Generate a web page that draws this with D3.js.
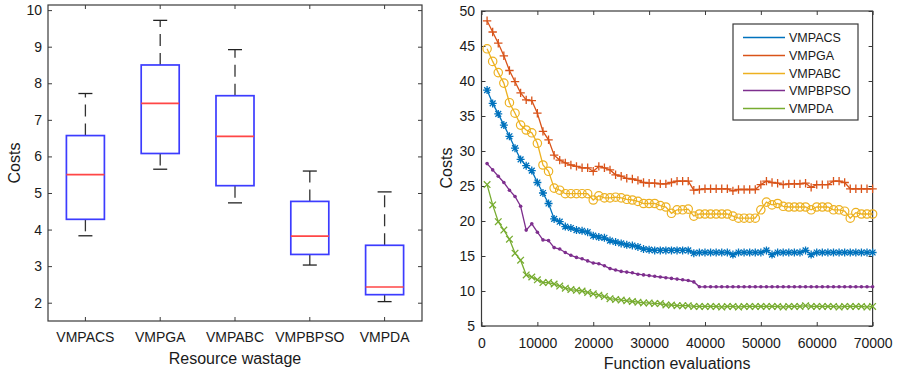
<!DOCTYPE html>
<html>
<head>
<meta charset="utf-8">
<script src="https://cdn.jsdelivr.net/npm/d3@7"></script>
<style>
  body { margin: 0; background: #fff; }
  text { font-family: "Liberation Sans", Arial, sans-serif; fill: #1a1a1a; }
</style>
</head>
<body>
<div class="chart"></div>
<script>
// box plot data (resource wastage costs)
var methods = ["VMPACS", "VMPGA", "VMPABC", "VMPBPSO", "VMPDA"];
var whiskerLow = [3.83, 5.65, 4.73, 3.03, 2.03];
var q1 = [4.28, 6.08, 5.20, 3.32, 2.22];
var median = [5.50, 7.45, 6.55, 3.82, 2.43];
var q3 = [6.57, 8.50, 7.66, 4.77, 3.57];
var whiskerHigh = [7.72, 9.72, 8.92, 5.60, 5.03];
var boxTicks = [2, 3, 4, 5, 6, 7, 8, 9, 10];

// convergence data, one value per 1000 function evaluations
var evals = d3.range(1000, 70001, 1000);
var costACS = [38.7, 36.8, 35.3, 33.7, 32.1, 30.4, 28.8, 27.9, 27.2, 25.5,
  24.0, 22.5, 20.3, 19.9, 19.2, 19.0, 18.7, 18.6, 18.4, 17.9,
  17.7, 17.6, 17.2, 17.0, 16.8, 16.6, 16.5, 16.3, 16.0, 15.9,
  15.8, 15.8, 15.8, 15.8, 15.8, 15.8, 15.8, 15.4, 15.5, 15.5,
  15.5, 15.5, 15.5, 15.5, 15.2, 15.5, 15.5, 15.5, 15.5, 15.5,
  15.8, 15.2, 15.5, 15.5, 15.5, 15.5, 15.5, 15.8, 15.2, 15.5,
  15.5, 15.5, 15.5, 15.5, 15.5, 15.5, 15.5, 15.5, 15.5, 15.5];
var costGA = [48.6, 47.0, 45.4, 43.6, 41.5, 39.9, 38.3, 37.3, 37.2, 35.4,
  32.8, 31.6, 29.4, 28.7, 28.3, 28.0, 27.8, 27.6, 27.6, 27.1,
  27.8, 27.6, 27.3, 26.6, 26.4, 26.1, 26.0, 25.8, 25.5, 25.4,
  25.4, 25.3, 25.3, 25.5, 25.7, 25.7, 25.7, 24.4, 24.5, 24.6,
  24.6, 24.6, 24.6, 24.6, 24.3, 24.5, 24.5, 24.5, 24.5, 25.2,
  25.7, 25.5, 25.4, 25.2, 25.3, 25.3, 25.3, 25.4, 24.8, 25.2,
  25.2, 25.2, 25.7, 25.7, 25.5, 24.6, 24.6, 24.6, 24.6, 24.6];
var costABC = [44.6, 42.8, 41.2, 39.7, 36.9, 35.4, 33.7, 33.0, 32.6, 31.1,
  28.0, 27.1, 24.7, 24.4, 23.9, 23.9, 23.9, 23.9, 23.9, 23.0,
  23.6, 23.3, 23.3, 23.4, 23.3, 23.1, 23.0, 22.8, 22.5, 22.5,
  22.5, 22.2, 22.0, 21.1, 21.6, 21.6, 21.7, 20.7, 21.0, 21.0,
  21.0, 21.0, 21.0, 21.0, 20.7, 20.4, 20.4, 20.4, 20.4, 21.6,
  22.7, 22.3, 22.5, 22.1, 22.0, 22.0, 22.0, 22.0, 21.6, 22.0,
  22.0, 22.0, 21.6, 21.6, 21.4, 20.4, 21.2, 21.0, 21.0, 21.0];
var costBPSO = [28.2, 27.3, 26.4, 25.5, 24.4, 23.5, 22.1, 18.7, 19.6, 18.4,
  17.3, 17.2, 16.2, 16.0, 15.5, 15.1, 14.8, 14.6, 14.3, 14.0,
  13.9, 13.6, 13.2, 13.0, 12.8, 12.7, 12.6, 12.4, 12.3, 12.2,
  12.1, 12.0, 11.9, 11.8, 11.7, 11.6, 11.5, 11.3, 10.6, 10.6,
  10.6, 10.6, 10.6, 10.6, 10.6, 10.6, 10.6, 10.6, 10.6, 10.6,
  10.6, 10.6, 10.6, 10.6, 10.6, 10.6, 10.6, 10.6, 10.6, 10.6,
  10.6, 10.6, 10.6, 10.6, 10.6, 10.6, 10.6, 10.6, 10.6, 10.6];
var costDA = [25.2, 22.3, 19.9, 18.7, 17.4, 15.4, 14.4, 12.3, 12.0, 11.6,
  11.2, 11.2, 11.0, 10.7, 10.4, 10.2, 10.1, 10.0, 9.8, 9.6,
  9.4, 9.2, 8.9, 8.8, 8.7, 8.6, 8.5, 8.4, 8.3, 8.3,
  8.2, 8.2, 8.0, 8.0, 7.9, 7.9, 7.9, 7.8, 7.8, 7.8,
  7.8, 7.8, 7.7, 7.8, 7.8, 7.7, 7.8, 7.8, 7.8, 7.8,
  7.8, 7.8, 7.8, 7.7, 7.8, 7.8, 7.8, 7.9, 7.8, 7.8,
  7.8, 7.8, 7.8, 7.7, 7.8, 7.8, 7.8, 7.8, 7.7, 7.8];
var lineTicksY = [5, 10, 15, 20, 25, 30, 35, 40, 45, 50];
var lineTicksX = [0, 10000, 20000, 30000, 40000, 50000, 60000, 70000];

var series = [
  {name: "VMPACS", values: costACS, color: "#0072BD", marker: "star"},
  {name: "VMPGA", values: costGA, color: "#D95319", marker: "plus"},
  {name: "VMPABC", values: costABC, color: "#EDB120", marker: "circle"},
  {name: "VMPBPSO", values: costBPSO, color: "#7E2F8E", marker: "dot"},
  {name: "VMPDA", values: costDA, color: "#77AC30", marker: "cross"}
];

var svg = d3.select(".chart")
  .append("svg")
  .attr("width", 897)
  .attr("height", 375);

var axisColor = "#3a3a3a";

function styleAxis(g) {
  g.select(".domain").remove();
  g.selectAll("line").attr("stroke", axisColor);
  g.selectAll("text").attr("font-size", 14).attr("fill", "#1a1a1a");
}

// ---------- left panel: box plot ----------
var L = {left: 48, right: 422, top: 5, bottom: 321};

var xBox = d3.scaleBand().domain(methods).range([L.left, L.right]);
var yBox = d3.scaleLinear().domain([1.5, 10.14]).range([L.bottom, L.top]);
var cx = function(i) { return xBox(methods[i]) + xBox.bandwidth() / 2; };

svg.append("g")
  .attr("transform", `translate(${L.left},0)`)
  .call(d3.axisLeft(yBox).tickValues(boxTicks).tickSizeInner(-4).tickSizeOuter(0).tickPadding(6))
  .call(styleAxis);
svg.append("g")
  .attr("transform", `translate(${L.right},0)`)
  .call(d3.axisRight(yBox).tickValues(boxTicks).tickSizeInner(-4).tickSizeOuter(0).tickFormat(""))
  .call(styleAxis);
svg.append("g")
  .attr("transform", `translate(0,${L.bottom})`)
  .call(d3.axisBottom(xBox).tickSizeInner(-4).tickSizeOuter(0).tickPadding(11))
  .call(styleAxis);
svg.append("g")
  .attr("transform", `translate(0,${L.top})`)
  .call(d3.axisTop(xBox).tickSizeInner(-4).tickSizeOuter(0).tickFormat(""))
  .call(styleAxis);

svg.append("rect")
  .attr("x", L.left).attr("y", L.top)
  .attr("width", L.right - L.left).attr("height", L.bottom - L.top)
  .attr("fill", "none").attr("stroke", axisColor).attr("stroke-width", 1.2);

var boxes = svg.append("g").selectAll("g")
  .data(methods)
  .enter()
  .append("g");

// whiskers
boxes.append("line")
  .attr("x1", (d, i) => cx(i)).attr("x2", (d, i) => cx(i))
  .attr("y1", (d, i) => yBox(q3[i])).attr("y2", (d, i) => yBox(whiskerHigh[i]))
  .attr("stroke", "#333").attr("stroke-width", 1.3).attr("stroke-dasharray", "12,7");
boxes.append("line")
  .attr("x1", (d, i) => cx(i)).attr("x2", (d, i) => cx(i))
  .attr("y1", (d, i) => yBox(q1[i])).attr("y2", (d, i) => yBox(whiskerLow[i]))
  .attr("stroke", "#333").attr("stroke-width", 1.3).attr("stroke-dasharray", "12,7");
// caps
boxes.append("line")
  .attr("x1", (d, i) => cx(i) - 7).attr("x2", (d, i) => cx(i) + 7)
  .attr("y1", (d, i) => yBox(whiskerHigh[i])).attr("y2", (d, i) => yBox(whiskerHigh[i]))
  .attr("stroke", "#222").attr("stroke-width", 1.3);
boxes.append("line")
  .attr("x1", (d, i) => cx(i) - 7).attr("x2", (d, i) => cx(i) + 7)
  .attr("y1", (d, i) => yBox(whiskerLow[i])).attr("y2", (d, i) => yBox(whiskerLow[i]))
  .attr("stroke", "#222").attr("stroke-width", 1.3);
// box
boxes.append("rect")
  .attr("x", (d, i) => cx(i) - 19)
  .attr("width", 38)
  .attr("y", (d, i) => yBox(q3[i]))
  .attr("height", (d, i) => yBox(q1[i]) - yBox(q3[i]))
  .attr("fill", "none").attr("stroke", "#3c3cff").attr("stroke-width", 1.7);
// median
boxes.append("line")
  .attr("x1", (d, i) => cx(i) - 19).attr("x2", (d, i) => cx(i) + 19)
  .attr("y1", (d, i) => yBox(median[i])).attr("y2", (d, i) => yBox(median[i]))
  .attr("stroke", "#ff4646").attr("stroke-width", 1.7);

svg.append("text")
  .attr("x", (L.left + L.right) / 2).attr("y", 364)
  .attr("text-anchor", "middle").attr("font-size", 16)
  .text("Resource wastage");
svg.append("text")
  .attr("transform", "translate(19.5,163) rotate(-90)")
  .attr("text-anchor", "middle").attr("font-size", 16)
  .text("Costs");

// ---------- right panel: convergence curves ----------
var R = {left: 481.5, right: 872.6, top: 11, bottom: 326};

var xLine = d3.scaleLinear().domain([0, 70000]).range([R.left, R.right]);
var yLine = d3.scaleLinear().domain([5, 50]).range([R.bottom, R.top]);

svg.append("g")
  .attr("transform", `translate(${R.left},0)`)
  .call(d3.axisLeft(yLine).tickValues(lineTicksY).tickSizeInner(-4).tickSizeOuter(0).tickPadding(6.5))
  .call(styleAxis);
svg.append("g")
  .attr("transform", `translate(${R.right},0)`)
  .call(d3.axisRight(yLine).tickValues(lineTicksY).tickSizeInner(-4).tickSizeOuter(0).tickFormat(""))
  .call(styleAxis);
svg.append("g")
  .attr("transform", `translate(0,${R.bottom})`)
  .call(d3.axisBottom(xLine).tickValues(lineTicksX).tickFormat(d3.format("d")).tickSizeInner(-4).tickSizeOuter(0).tickPadding(12))
  .call(styleAxis);
svg.append("g")
  .attr("transform", `translate(0,${R.top})`)
  .call(d3.axisTop(xLine).tickValues(lineTicksX).tickSizeInner(-4).tickSizeOuter(0).tickFormat(""))
  .call(styleAxis);

svg.append("rect")
  .attr("x", R.left).attr("y", R.top)
  .attr("width", R.right - R.left).attr("height", R.bottom - R.top)
  .attr("fill", "none").attr("stroke", axisColor).attr("stroke-width", 1.2);

var markerPath = {
  plus: "M-4.2,0H4.2M0,-4.2V4.2",
  cross: "M-3.3,-3.3L3.3,3.3M-3.3,3.3L3.3,-3.3",
  star: "M-4,0H4M0,-4V4M-2.9,-2.9L2.9,2.9M-2.9,2.9L2.9,-2.9"
};

var line = d3.line()
  .x((d, i) => xLine(evals[i]))
  .y(d => yLine(d));

var plot = svg.append("g");

series.forEach(function(s) {
  var g = plot.append("g");
  g.append("path")
    .datum(s.values)
    .attr("d", line)
    .attr("fill", "none")
    .attr("stroke", s.color)
    .attr("stroke-width", 1.3);

  var pts = g.selectAll(".pt")
    .data(s.values)
    .enter();
  if (s.marker === "circle") {
    pts.append("circle")
      .attr("cx", (d, i) => xLine(evals[i]))
      .attr("cy", d => yLine(d))
      .attr("r", 4.2)
      .attr("fill", "none")
      .attr("stroke", s.color)
      .attr("stroke-width", 1.2);
  } else if (s.marker === "dot") {
    pts.append("circle")
      .attr("cx", (d, i) => xLine(evals[i]))
      .attr("cy", d => yLine(d))
      .attr("r", 1.8)
      .attr("fill", s.color);
  } else {
    pts.append("path")
      .attr("transform", (d, i) => `translate(${xLine(evals[i])},${yLine(d)})`)
      .attr("d", markerPath[s.marker])
      .attr("fill", "none")
      .attr("stroke", s.color)
      .attr("stroke-width", 1.3);
  }
});

// legend
var legend = svg.append("g").attr("transform", "translate(733,24)");
legend.append("rect")
  .attr("width", 125).attr("height", 96)
  .attr("fill", "#fff").attr("stroke", axisColor).attr("stroke-width", 1.2);
var items = legend.selectAll(".item")
  .data(series)
  .enter()
  .append("g")
  .attr("transform", (d, i) => `translate(0,${Math.round(13 + i * 17.8) + 0.5})`);
items.append("line")
  .attr("x1", 10).attr("x2", 52)
  .attr("stroke", d => d.color).attr("stroke-width", 1.5);
items.append("text")
  .attr("x", 56).attr("dy", "0.36em")
  .attr("font-size", 12.5)
  .text(d => d.name);

svg.append("text")
  .attr("x", (R.left + R.right) / 2).attr("y", 369)
  .attr("text-anchor", "middle").attr("font-size", 16)
  .text("Function evaluations");
svg.append("text")
  .attr("transform", "translate(452,168) rotate(-90)")
  .attr("text-anchor", "middle").attr("font-size", 16)
  .text("Costs");
</script>
</body>
</html>
